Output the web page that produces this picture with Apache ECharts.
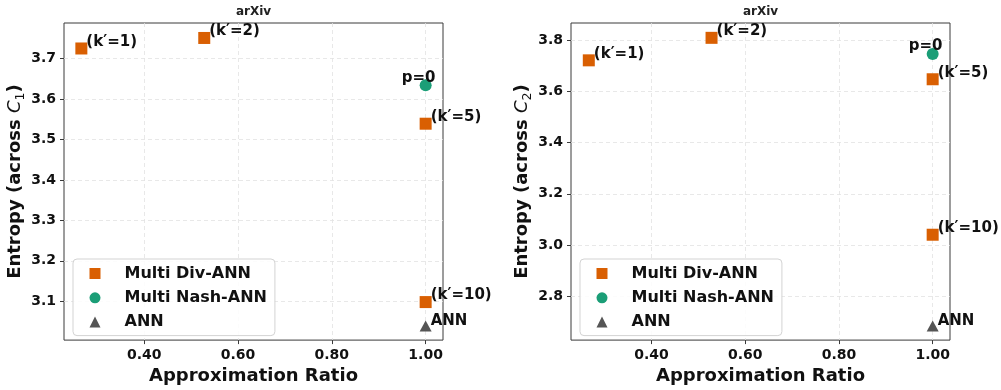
<!DOCTYPE html>
<html>
<head>
<meta charset="utf-8">
<script src="https://cdn.jsdelivr.net/npm/echarts@6/dist/echarts.min.js"></script>
<style>
html, body { margin: 0; padding: 0; background: #fff; }
#chart { width: 1001px; height: 390px; }
</style>
</head>
<body>
<div id="chart"></div>
<script>
// Approximation ratio (shared by both panels)
const ratioDiv = [0.266, 0.528, 1.0, 1.0];
const ratioNash = [1.0];
const ratioAnn = [1.0];

// Point annotations
const divLabels = ['(k\u2032=1)', '(k\u2032=2)', '(k\u2032=5)', '(k\u2032=10)'];
const nashLabels = ['p=0'];
const annLabels = ['ANN'];

// Entropy across C1 (left panel)
const entropyDivC1 = [3.725, 3.751, 3.539, 3.098];
const entropyNashC1 = [3.634];
const entropyAnnC1 = [3.039];

// Entropy across C2 (right panel)
const entropyDivC2 = [3.722, 3.810, 3.648, 3.040];
const entropyNashC2 = [3.747];
const entropyAnnC2 = [2.683];

// Tick positions
const xTicks = [0.4, 0.6, 0.8, 1.0];
const yTicksC1 = [3.1, 3.2, 3.3, 3.4, 3.5, 3.6, 3.7];
const yTicksC2 = [2.8, 3.0, 3.2, 3.4, 3.6, 3.8];

const seriesNames = ['Multi Div-ANN', 'Multi Nash-ANN', 'ANN'];
const colors = ['#d95f02', '#1b9e77', '#555555'];

const FONT = '"DejaVu Sans", sans-serif';
const INK = '#111';
const SPINE = '#3a3a3a';

function points(xs, ys, names) {
  return xs.map((x, i) => ({ value: [x, ys[i]], name: names[i] }));
}

function makeGrid(left) {
  return {
    left: left, top: 23, width: 379, height: 320,
    show: true, borderColor: SPINE, borderWidth: 1, backgroundColor: 'transparent'
  };
}

function makeX(idx, min, max) {
  return {
    type: 'value', gridIndex: idx, min: min, max: max,
    name: 'Approximation Ratio', nameLocation: 'middle', nameGap: 25,
    nameTextStyle: { fontFamily: FONT, fontSize: 18, fontWeight: 'bold', color: INK },
    axisLine: { show: false },
    axisTick: { show: true, length: 4, customValues: xTicks, lineStyle: { color: SPINE } },
    axisLabel: {
      customValues: xTicks, margin: 8, fontFamily: FONT, fontSize: 14, fontWeight: 'bold', color: INK,
      formatter: v => v.toFixed(2)
    },
    splitLine: { show: true, lineStyle: { color: '#e2e2e2', width: 0.8, type: [4, 3] } }
  };
}

function makeY(idx, min, max, ticks, sub) {
  return {
    type: 'value', gridIndex: idx, min: min, max: max,
    name: '{b|Entropy (across }{c|C}{s|' + sub + '}{b|)}',
    nameLocation: 'middle', nameGap: 32,
    nameTextStyle: {
      fontFamily: FONT, fontSize: 18, fontWeight: 'bold', color: INK,
      rich: {
        b: { fontFamily: FONT, fontSize: 18, fontWeight: 'bold', color: INK, lineHeight: 24 },
        c: { fontFamily: FONT, fontSize: 18, fontWeight: 'normal', fontStyle: 'italic', color: INK, lineHeight: 24 },
        s: { fontFamily: FONT, fontSize: 12.6, fontWeight: 'normal', color: INK, lineHeight: 24, verticalAlign: 'bottom' }
      }
    },
    axisLine: { show: false },
    axisTick: { show: true, length: 4, customValues: ticks, lineStyle: { color: SPINE } },
    axisLabel: {
      customValues: ticks, margin: 8, fontFamily: FONT, fontSize: 14, fontWeight: 'bold', color: INK,
      formatter: v => v.toFixed(1)
    },
    splitLine: { show: true, lineStyle: { color: '#e2e2e2', width: 0.8, type: [4, 3] } }
  };
}

function labelStyle(align, offset) {
  return {
    show: true, position: ['50%', '50%'], align: align, verticalAlign: 'bottom',
    offset: offset, formatter: p => p.name, opacity: 1,
    fontFamily: FONT, fontSize: 15, fontWeight: 'bold', color: INK
  };
}

function makeSeries(idx, divY, nashY, annY) {
  return [
    {
      name: seriesNames[0], type: 'scatter', xAxisIndex: idx, yAxisIndex: idx,
      symbol: 'rect', symbolSize: 12, itemStyle: { color: colors[0], opacity: 1 },
      label: labelStyle('left', [5, 1]), data: points(ratioDiv, divY, divLabels), z: 3
    },
    {
      name: seriesNames[1], type: 'scatter', xAxisIndex: idx, yAxisIndex: idx,
      symbol: 'circle', symbolSize: 12, itemStyle: { color: colors[1], opacity: 1 },
      label: labelStyle('center', [-7, 0]), data: points(ratioNash, nashY, nashLabels), z: 3
    },
    {
      name: seriesNames[2], type: 'scatter', xAxisIndex: idx, yAxisIndex: idx,
      symbol: 'triangle', symbolSize: [12, 11], itemStyle: { color: colors[2], opacity: 1 },
      label: labelStyle('left', [5, 3]), data: points(ratioAnn, annY, annLabels), z: 3
    }
  ];
}

function makeLegend(left) {
  return {
    orient: 'vertical', left: left, top: 259,
    data: seriesNames,
    itemWidth: 11, itemHeight: 11, itemGap: 6.3,
    padding: [5.5, 8, 4.5, 16.5],
    backgroundColor: 'rgba(255,255,255,0.85)', borderColor: '#d3d3d3', borderWidth: 1, borderRadius: 4,
    selectedMode: false,
    itemStyle: { opacity: 1 },
    formatter: n => '{t|' + n + '}',
    textStyle: {
      fontFamily: FONT, fontSize: 16, fontWeight: 'bold', color: INK, lineHeight: 18,
      rich: { t: { fontFamily: FONT, fontSize: 16, fontWeight: 'bold', color: INK, lineHeight: 18, padding: [0, 0, 0, 19] } }
    },
    z: 10
  };
}

function makeTitle(cx) {
  return {
    text: 'arXiv', left: cx, top: 6, textAlign: 'center', padding: 0,
    textStyle: { fontFamily: FONT, fontSize: 12, fontWeight: 'bold', color: '#222' }
  };
}

const chart = echarts.init(document.getElementById('chart'), null, { renderer: 'canvas' });
chart.setOption({
  animation: false,
  backgroundColor: '#fff',
  color: colors,
  title: [makeTitle(253.5), makeTitle(760.5)],
  grid: [makeGrid(64), makeGrid(571)],
  xAxis: [makeX(0, 0.229, 1.037), makeX(1, 0.228, 1.037)],
  yAxis: [makeY(0, 3.004, 3.788, yTicksC1, '1'), makeY(1, 2.628, 3.868, yTicksC2, '2')],
  legend: [makeLegend(73), makeLegend(580)],
  series: makeSeries(0, entropyDivC1, entropyNashC1, entropyAnnC1)
    .concat(makeSeries(1, entropyDivC2, entropyNashC2, entropyAnnC2))
});
</script>
</body>
</html>
